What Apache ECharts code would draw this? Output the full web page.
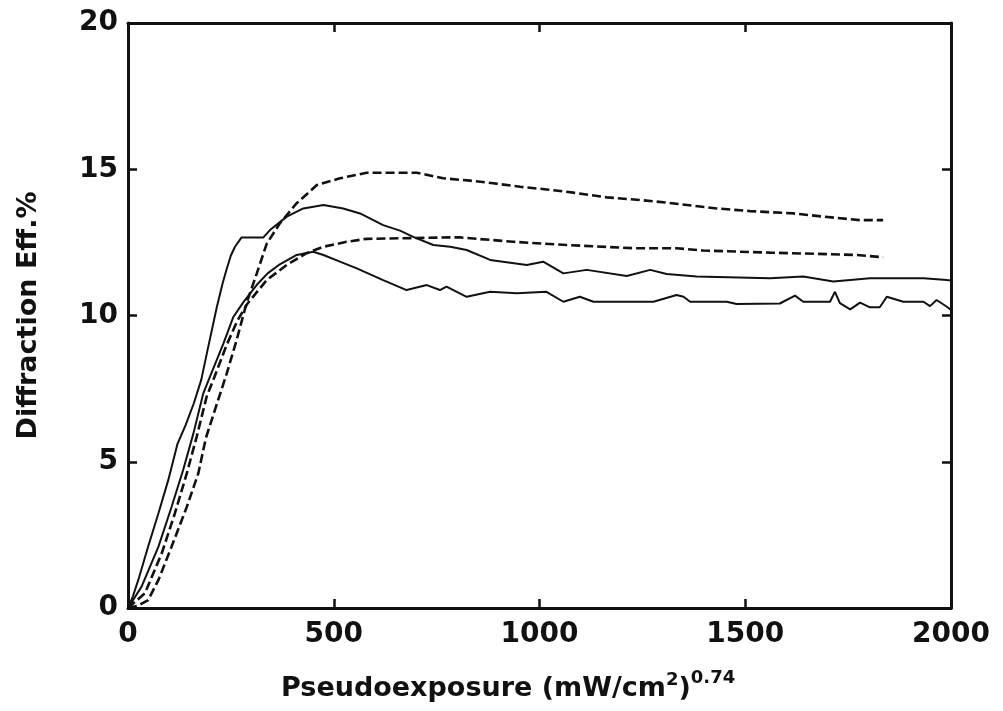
<!DOCTYPE html>
<html>
<head>
<meta charset="utf-8">
<script src="https://cdn.jsdelivr.net/npm/echarts@6/dist/echarts.min.js"></script>
<style>
html,body{margin:0;padding:0;background:#fff;}
#chart{width:1003px;height:711px;}
</style>
</head>
<body>
<div id="chart"></div>
<script>
// ---- data ----
const xTicks = [0, 500, 1000, 1500, 2000];
const yTicks = [0, 5, 10, 15, 20];

// Solid curve A (steep rise, plateau 12.7, peak ~13.8)
const solidA_x = [0, 12, 25, 49, 74, 98, 120, 140, 160, 178, 193, 216, 230, 240, 250, 260, 276, 329, 345, 386, 426, 475, 523, 564, 620, 661, 693, 742, 783, 823, 880, 969, 1009, 1058, 1115, 1212, 1269, 1309, 1382, 1560, 1641, 1714, 1803, 1933, 1990, 2000];
const solidA_y = [0, 0.4, 0.96, 2.10, 3.24, 4.38, 5.6, 6.25, 7.0, 7.8, 8.8, 10.3, 11.1, 11.6, 12.05, 12.35, 12.67, 12.67, 12.92, 13.38, 13.66, 13.78, 13.66, 13.49, 13.09, 12.9, 12.69, 12.41, 12.35, 12.24, 11.90, 11.73, 11.84, 11.44, 11.56, 11.35, 11.56, 11.42, 11.33, 11.27, 11.33, 11.16, 11.27, 11.27, 11.21, 11.2];

// Solid curve B (peak ~12.2, decays to ~10.3)
const solidB_x = [0, 33, 74, 106, 134, 159, 183, 199, 232, 256, 280, 313, 340, 369, 410, 450, 475, 515, 556, 620, 677, 726, 758, 774, 823, 880, 945, 1017, 1058, 1098, 1131, 1277, 1333, 1350, 1366, 1455, 1479, 1584, 1621, 1641, 1706, 1718, 1730, 1755, 1779, 1803, 1827, 1844, 1884, 1933, 1949, 1965, 1990, 2000];
const solidB_y = [0, 0.73, 2.10, 3.46, 4.72, 5.97, 7.34, 7.9, 9.05, 9.95, 10.45, 11.05, 11.45, 11.75, 12.07, 12.18, 12.07, 11.84, 11.61, 11.21, 10.87, 11.04, 10.87, 10.99, 10.64, 10.81, 10.76, 10.81, 10.47, 10.64, 10.47, 10.47, 10.70, 10.64, 10.47, 10.47, 10.39, 10.41, 10.68, 10.47, 10.47, 10.81, 10.42, 10.21, 10.44, 10.28, 10.28, 10.64, 10.47, 10.47, 10.32, 10.53, 10.30, 10.19];

// Dashed curve C (plateau ~14.9, ends at ~13.3)
const dashC_x = [0, 25, 49, 74, 106, 143, 171, 189, 219, 240, 264, 288, 313, 337, 369, 410, 459, 515, 580, 702, 766, 831, 888, 953, 1017, 1082, 1163, 1244, 1309, 1431, 1511, 1617, 1690, 1779, 1835];
const dashC_y = [0, 0.08, 0.27, 0.96, 2.10, 3.46, 4.61, 5.8, 7.11, 8.02, 9.16, 10.42, 11.44, 12.45, 13.15, 13.84, 14.46, 14.69, 14.88, 14.88, 14.69, 14.61, 14.52, 14.40, 14.31, 14.20, 14.04, 13.95, 13.86, 13.66, 13.57, 13.49, 13.38, 13.26, 13.26];

// Dashed curve D (plateau ~12.65, ends at ~12.0)
const dashD_x = [0, 41, 82, 114, 143, 167, 191, 210, 240, 265, 290, 337, 386, 434, 475, 531, 580, 783, 807, 936, 1066, 1228, 1333, 1398, 1560, 1771, 1835];
const dashD_y = [0, 0.50, 1.87, 3.24, 4.61, 5.86, 7.22, 7.9, 9.0, 9.8, 10.4, 11.21, 11.73, 12.13, 12.35, 12.52, 12.62, 12.67, 12.67, 12.52, 12.41, 12.30, 12.30, 12.22, 12.15, 12.07, 11.99];

const xTitleMain = 'Pseudoexposure (mW/cm';
const xTitleSup1 = '2';
const xTitleParen = ')';
const xTitleSup2 = '0.74';
const yTitle = 'Diffraction Eff.%';

// ---- build ----
function pairs(xs, ys) { return xs.map((x, i) => [x, ys[i]]); }

const FONT = '"DejaVu Sans", "Liberation Sans", Arial, sans-serif';
const INK = '#111';

const chart = echarts.init(document.getElementById('chart'), null, {renderer: 'canvas'});

const axisLine = {show: true, onZero: false, lineStyle: {color: INK, width: 3}};
const axisTick = {show: true, inside: true, length: 9, lineStyle: {color: INK, width: 2.5}};

const solidStyle = {color: INK, width: 2, type: 'solid'};
const dashStyle = {color: INK, width: 2.6, type: [9, 4]};

const tickLabel = {color: INK, fontFamily: FONT, fontWeight: 'bold', fontSize: 28, formatter: v => String(v)};

chart.setOption({
  animation: false,
  backgroundColor: '#fff',
  grid: {left: 128, right: 52, top: 23, bottom: 103, containLabel: false},
  xAxis: [
    {
      type: 'value', min: xTicks[0], max: xTicks[xTicks.length - 1], interval: 500,
      position: 'bottom',
      axisLine: axisLine, axisTick: axisTick, splitLine: {show: false},
      axisLabel: Object.assign({show: true, margin: 13}, tickLabel)
    },
    {
      type: 'value', min: xTicks[0], max: xTicks[xTicks.length - 1], interval: 500,
      position: 'top',
      axisLine: axisLine, axisTick: axisTick, splitLine: {show: false},
      axisLabel: {show: false}
    }
  ],
  yAxis: [
    {
      type: 'value', min: yTicks[0], max: yTicks[yTicks.length - 1], interval: 5,
      position: 'left',
      axisLine: axisLine, axisTick: axisTick, splitLine: {show: false},
      axisLabel: Object.assign({show: true, margin: 10}, tickLabel),
      name: yTitle, nameLocation: 'middle', nameGap: 86, nameRotate: 90,
      nameTextStyle: {color: INK, fontFamily: FONT, fontWeight: 'bold', fontSize: 27}
    },
    {
      type: 'value', min: yTicks[0], max: yTicks[yTicks.length - 1], interval: 5,
      position: 'right',
      axisLine: axisLine, axisTick: axisTick, splitLine: {show: false},
      axisLabel: {show: false}
    }
  ],
  graphic: [
    {
      type: 'text',
      left: 281, top: 669,
      style: {
        text: '{m|' + xTitleMain + '}{s|' + xTitleSup1 + '}{m|' + xTitleParen + '}{s2|' + xTitleSup2 + '}',
        rich: {
          m: {fontFamily: FONT, fontWeight: 'bold', fontSize: 27, fill: INK, lineHeight: 40, verticalAlign: 'bottom'},
          s: {fontFamily: FONT, fontWeight: 'bold', fontSize: 18, fill: INK, lineHeight: 40, verticalAlign: 'bottom', padding: [0, 0, 13, 0]},
          s2: {fontFamily: FONT, fontWeight: 'bold', fontSize: 18, fill: INK, lineHeight: 40, verticalAlign: 'bottom', padding: [0, 0, 15, 0]}
        }
      }
    }
  ],
  series: [
    {type: 'line', name: 'A', data: pairs(solidA_x, solidA_y), showSymbol: false, smooth: false, lineStyle: solidStyle, xAxisIndex: 0, yAxisIndex: 0},
    {type: 'line', name: 'B', data: pairs(solidB_x, solidB_y), showSymbol: false, smooth: false, lineStyle: solidStyle, xAxisIndex: 0, yAxisIndex: 0},
    {type: 'line', name: 'C', data: pairs(dashC_x, dashC_y), showSymbol: false, smooth: false, lineStyle: dashStyle, xAxisIndex: 0, yAxisIndex: 0},
    {type: 'line', name: 'D', data: pairs(dashD_x, dashD_y), showSymbol: false, smooth: false, lineStyle: dashStyle, xAxisIndex: 0, yAxisIndex: 0}
  ]
});
</script>
</body>
</html>
